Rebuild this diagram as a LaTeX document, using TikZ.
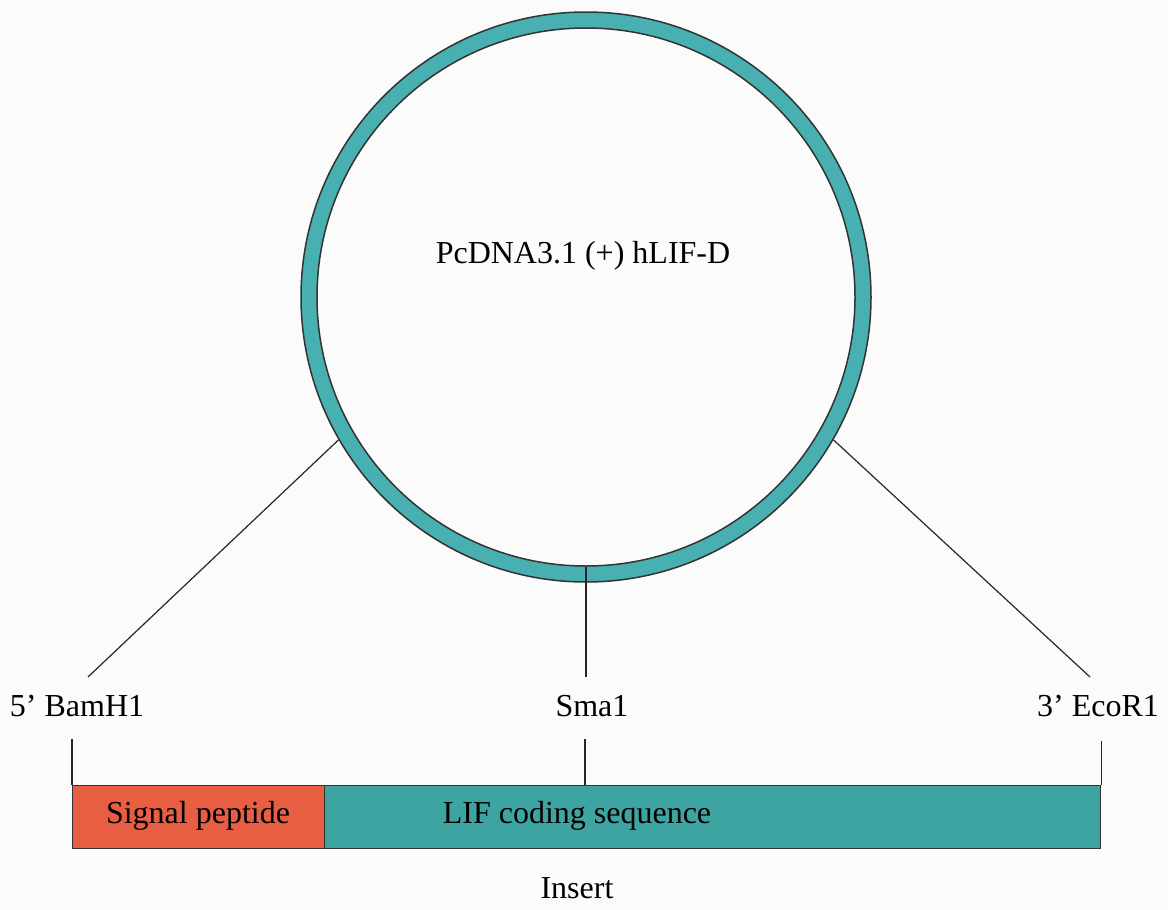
\documentclass[tikz,border=0pt]{standalone}
\usepackage{fontspec}
\setmainfont{Liberation Serif}
\definecolor{paper}{RGB}{252,251,251}
\definecolor{ringteal}{RGB}{72,176,176}
\definecolor{barteal}{RGB}{62,164,162}
\definecolor{peptred}{RGB}{232,94,66}
\begin{document}
\begin{tikzpicture}[x=1pt,y=-1pt,
  lbl/.style={font=\fontsize{32}{38}\selectfont, inner sep=0pt, anchor=base},
  link/.style={draw=black!85, line width=1.2pt},
  segment/.style={draw=black!80, line width=1.3pt, minimum height=63pt,
                  inner sep=0pt, anchor=north west},
]
% page
\fill[paper] (0,0) rectangle (1168,910);
\useasboundingbox (0,0) rectangle (1168,910);

% plasmid ring
\node[circle, draw=black!80, line width=1.5pt, fill=ringteal,
      minimum size=570pt, inner sep=0pt] (plasmid) at (586,297) {};
\node[circle, draw=black!80, line width=1.5pt, fill=paper,
      minimum size=538pt, inner sep=0pt] (lumen) at (586,297) {};
\node[lbl] (name) at (583,263) {PcDNA3.1 (+) hLIF-D};

% insert bar
\node[segment, fill=peptred, minimum width=252pt] (signal) at (72,785) {};
\node[segment, fill=barteal, minimum width=776pt] (coding) at (324,785) {};
\node[lbl] (sigtext) at (198,823) {Signal peptide};
\node[lbl] (codtext) at (577,823) {LIF coding sequence};
\node[lbl] (insert) at (577,898) {Insert};

% restriction sites
\node[lbl] (bam) at (77,716) {5’ BamH1};
\node[lbl] (sma) at (592,716) {Sma1};
\node[lbl] (eco) at (1098,716) {3’ EcoR1};

% connectors from the ring to the site labels
\coordinate (bamlow) at (88,677);
\coordinate (smalow) at (586,677);
\coordinate (ecolow) at (1090,677);
\draw[link] (plasmid.210) -- (bamlow);
\draw[link] (lumen.south) -- (smalow);
\draw[link] (plasmid.-30) -- (ecolow);

% ticks from the site labels down to the insert
\coordinate (bamtop) at (72,739);
\coordinate (smatop) at (585,739);
\coordinate (ecotop) at (1100,741);
\draw[link] (signal.north west |- bamtop) -- (signal.north west);
\draw[link] (smatop) -- (smatop |- coding.north);
\draw[link] (coding.north east |- ecotop) -- (coding.north east);
\end{tikzpicture}
\end{document}
